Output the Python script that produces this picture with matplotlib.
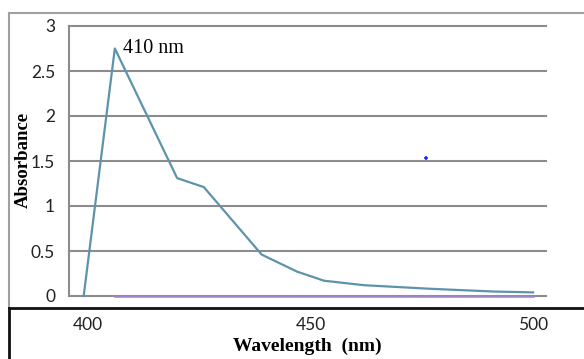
import numpy as np
import matplotlib.pyplot as plt
from matplotlib.lines import Line2D

# data
wavelength = [399, 406, 420, 426, 439, 447, 453, 462, 477, 491, 500]
absorbance = [0, 2.75, 1.31, 1.21, 0.46, 0.27, 0.17, 0.12, 0.08, 0.05, 0.04]
base_x = [406, 500]
base_y = [0, 0]
dot_x = [476]
dot_y = [1.53]
yticks = [0, 0.5, 1, 1.5, 2, 2.5, 3]
ytick_labels = ['0', '0.5', '1', '1.5', '2', '2.5', '3']
xticks = [400, 450, 500]

fig = plt.figure(figsize=(5.84, 3.59), dpi=100)
ax = fig.add_axes([69 / 584, 1 - 296 / 359, (546 - 69) / 584, (296 - 26) / 359])

# gridlines
for y in yticks:
    ax.axhline(y, color='#8c8c8c', lw=1.5, zorder=1, clip_on=False)

ax.plot(base_x, base_y, color='#9d84c4', lw=1.8, zorder=4, clip_on=False)
ax.plot(wavelength, absorbance, color='#5e93ac', lw=1.6, zorder=3, clip_on=False)
ax.plot(dot_x, dot_y, marker='+', color='#1a2cff', ms=3, mew=1.2, ls='none', zorder=3)

ax.annotate('410 nm', xy=(wavelength[1], absorbance[1]), xytext=(6, 0),
            textcoords='offset points', ha='left', va='center',
            family='Liberation Serif', fontsize=14.5)

ax.set_xlim(395.7, 502.9)
ax.set_ylim(0, 3)
ax.set_yticks(yticks)
ax.set_yticklabels(ytick_labels)
ax.set_xticks(xticks)
ax.tick_params(axis='y', length=0, pad=10, labelsize=12.5, labelcolor='#222222')
ax.tick_params(axis='x', length=0, pad=15, labelsize=12.5, labelcolor='#222222')
for lab in ax.get_xticklabels() + ax.get_yticklabels():
    lab.set_family('Lato')

for s in ['top', 'right', 'bottom']:
    ax.spines[s].set_visible(False)
ax.spines['left'].set_color('#8c8c8c')
ax.spines['left'].set_linewidth(1.5)

ax.set_ylabel('Absorbance', family='Liberation Serif', fontweight='bold', fontsize=13.5)
ax.yaxis.set_label_coords(-0.079, 0.505)
ax.set_xlabel('Wavelength  (nm)', family='Liberation Serif', fontweight='bold', fontsize=14)
ax.xaxis.set_label_coords(0.5, -0.155)

# chart border and table lines
fx = 8.5 / 584
ytop = 1 - 12.5 / 359
ysep = 1 - 308 / 359
fig.add_artist(Line2D([fx, 1], [ytop, ytop], color='#a0a0a0', lw=1.5))
fig.add_artist(Line2D([fx, fx], [ysep, ytop], color='#a0a0a0', lw=1.5))
fig.add_artist(Line2D([fx, 1], [ysep, ysep], color='#111111', lw=2))
fig.add_artist(Line2D([fx, fx], [0, ysep], color='#111111', lw=2))

fig.savefig('out.png', dpi=100)
